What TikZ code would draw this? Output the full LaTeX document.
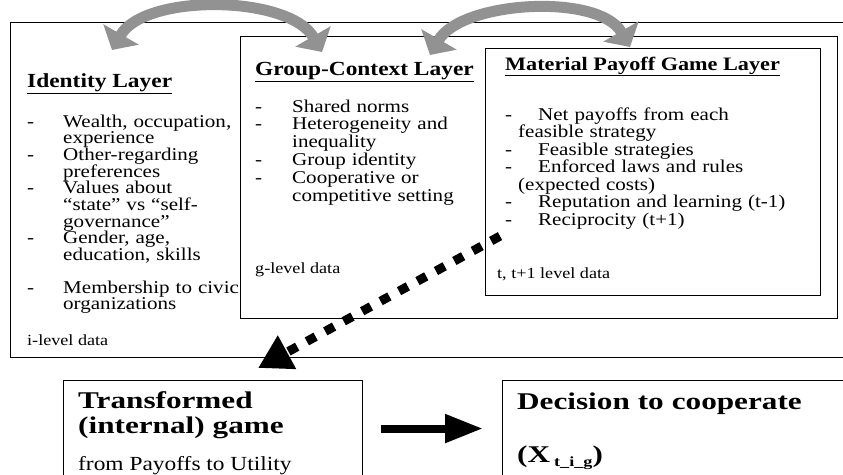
\documentclass[tikz,border=0pt]{standalone}
\usepackage{fontspec}
\setmainfont[FakeStretch=1.17]{Liberation Serif}
\newfontfamily\bigserif[FakeStretch=1.3]{Liberation Serif}
\usepackage{tikz}
\usetikzlibrary{arrows.meta,calc}

\definecolor{arcgray}{RGB}{146,146,146}
\newcommand{\li}[2][36pt]{\makebox[#1][l]{-}#2}
\newcommand{\lc}[2][36pt]{\hspace*{#1}#2}

\begin{document}
\begin{tikzpicture}
	[x=1pt,y=-1pt,
		layer box/.style={draw,line width=1.1pt,fill=white,anchor=north west,inner sep=0pt},
		layer head/.style={anchor=base west,inner sep=0pt,font=\fontsize{20}{22}\selectfont\bfseries},
		layer list/.style={anchor=base west,inner sep=0pt,text width=330pt,align=left},
		level note/.style={anchor=base west,inner sep=0pt,font=\fontsize{15.5}{17}\selectfont},
		big text/.style={anchor=base west,inner sep=0pt,text width=320pt,align=left,font=\bigserif\bfseries\fontsize{24}{25}\selectfont},
		swap arrow/.style={draw=arcgray,line width=11pt,{Triangle[width=40pt,length=18pt]}-{Triangle[width=40pt,length=18pt]},looseness=0.8},
		dot arrow/.style={draw,line width=9pt,dash pattern=on 10pt off 11pt,-{Triangle[length=33pt,width=36pt]}},
		solid arrow/.style={draw,line width=8pt,-{Triangle[length=38pt,width=27pt]}}]

	\useasboundingbox (0,0) rectangle (843,474);
	\clip (0,0) rectangle (843,474);

	% identity layer
	\node[layer box,minimum width=860pt,minimum height=335pt] (identity) at (10,22) {};
	\node[layer head] (idhead) at (27,87) {\underline{Identity Layer}};
	\node[layer list,font=\fontsize{18}{16.7}\selectfont] (idlist) at (27,127)
		{\li{Wealth, occupation,}\\ \lc{experience}\\ \li{Other-regarding}\\ \lc{preferences}\\
		 \li{Values about}\\ \lc{“state” vs “self-}\\ \lc{governance”}\\ \li{Gender, age,}\\
		 \lc{education, skills}\\[15.7pt] \li{Membership to civic}\\ \lc{organizations}};
	\node[level note] (idnote) at (27,345) {i-level data};

	% group-context layer
	\node[layer box,minimum width=597pt,minimum height=282pt] (group) at (240,36) {};
	\node[layer head] (grouphead) at (255,75) {\underline{Group-Context Layer}};
	\node[layer list,font=\fontsize{18}{17.8}\selectfont] (grouplist) at (255,112)
		{\li[37pt]{Shared norms}\\ \li[37pt]{Heterogeneity and}\\ \lc[37pt]{inequality}\\
		 \li[37pt]{Group identity}\\ \li[37pt]{Cooperative or}\\ \lc[37pt]{competitive setting}};
	\node[level note] (groupnote) at (255,273) {g-level data};

	% material payoff layer
	\node[layer box,minimum width=335pt,minimum height=247pt] (material) at (485,48) {};
	\node[layer head,font=\fontsize{19}{21}\selectfont\bfseries] (mathead) at (505,70) {\underline{Material Payoff Game Layer}};
	\node[layer list,font=\fontsize{18}{17.5}\selectfont] (matlist) at (505,120)
		{\li[33pt]{Net payoffs from each}\\ \lc[13pt]{feasible strategy}\\ \li[33pt]{Feasible strategies}\\
		 \li[33pt]{Enforced laws and rules}\\ \lc[13pt]{(expected costs)}\\
		 \li[33pt]{Reputation and learning (t-1)}\\ \li[33pt]{Reciprocity (t+1)}};
	\node[level note] (matnote) at (497,278) {t, t+1 level data};

	% bottom row
	\node[layer box,minimum width=299pt,minimum height=96pt] (transformed) at (63,380) {};
	\node[big text] (transtitle) at (78,408) {Transformed\\(internal) game};
	\node[anchor=base west,inner sep=0pt,font=\fontsize{20}{22}\selectfont] (transnote) at (78,470) {from Payoffs to Utility};

	\node[layer box,minimum width=368pt,minimum height=96pt] (decision) at (502,380) {};
	\node[big text] (dectitle) at (517,409) {Decision to cooperate};
	\node[big text] (decvar) at (517,462) {(X\,\raisebox{-4pt}{\fontsize{14}{14}\selectfont t\_i\_g})};

	\path
	($(identity.north west)+(102,28)$) edge [swap arrow,out=60,in=120]   ($(group.north west)+(82,16)$)
	($(group.north west)+(190,19)$)    edge [swap arrow,out=60,in=120]   ($(material.north west)+(145,-1)$)
	($(material.south west)+(15,-60)$) edge [dot arrow]   ($(transformed.north)+(45,-12)$)
	(transformed) edge [solid arrow,shorten <=18pt,shorten >=19pt]   (decision)
	;

\end{tikzpicture}
\end{document}
